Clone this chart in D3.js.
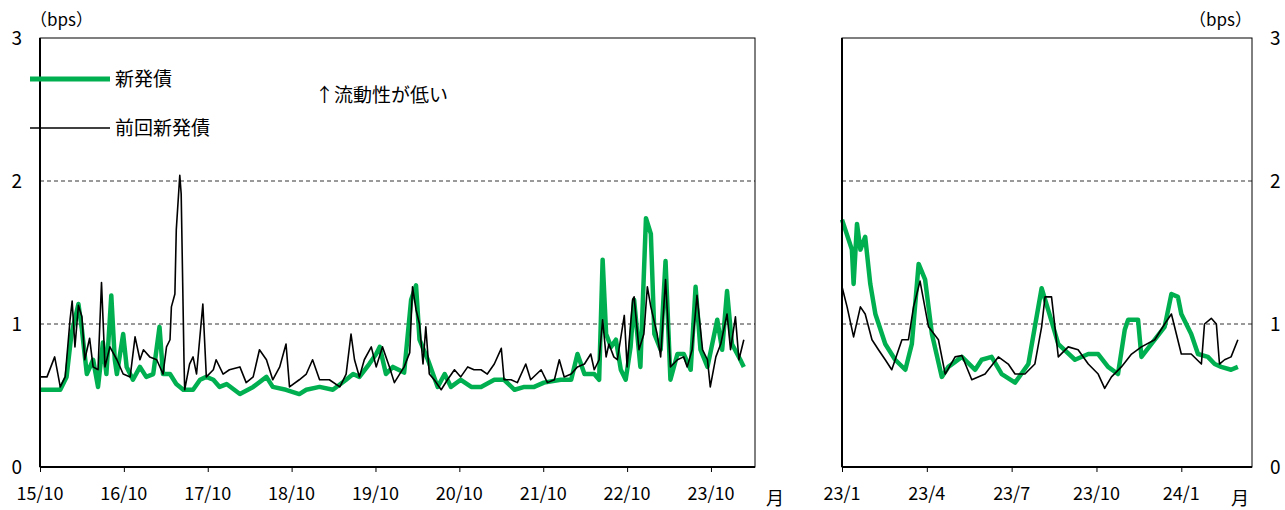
<!DOCTYPE html>
<html><head><meta charset="utf-8">
<script src="https://cdn.jsdelivr.net/npm/d3@7"></script>
<style>body{margin:0;background:#fff}text{font-family:"Noto Sans CJK JP","Noto Sans",sans-serif}</style>
</head><body><svg id="c" width="1285" height="510"></svg>
<script>
// month index from 2015/10 ; value (bps)
const leftNewM=[0,2.9,3.8,4.5,5.5,6.0,6.7,7.6,8.3,9.0,9.5,10.2,10.7,11.0,11.9,12.4,13.3,14.3,15.2,16.2,17.1,17.6,18.6,19.5,20.5,21.9,22.9,23.8,24.8,25.7,26.7,28.6,30.5,32.4,33.3,35.2,37.1,38.1,40.0,41.9,43.8,44.8,45.7,47.1,48.1,48.6,49.5,50.5,52.1,53.1,53.8,54.3,55.5,56.9,57.9,58.8,60.2,61.7,63.1,65.0,66.4,67.9,69.3,70.7,72.1,74.5,76.0,76.9,77.9,79.3,80.0,80.5,81.0,81.7,82.4,83.1,83.8,84.5,85.0,85.9,86.7,87.4,87.9,88.8,89.5,90.2,91.2,92.1,93.1,93.8,94.5,95.5,96.9,97.6,98.3,99.0,100.2,100.7];
const leftNewV=[0.54,0.54,0.63,0.93,1.14,0.96,0.65,0.75,0.56,0.87,0.65,1.20,0.75,0.65,0.93,0.70,0.61,0.70,0.63,0.65,0.98,0.65,0.65,0.58,0.54,0.54,0.61,0.63,0.61,0.56,0.58,0.51,0.56,0.63,0.56,0.54,0.51,0.54,0.56,0.54,0.61,0.65,0.63,0.72,0.79,0.84,0.65,0.70,0.66,1.17,1.27,0.89,0.75,0.56,0.65,0.56,0.61,0.56,0.56,0.61,0.61,0.54,0.56,0.56,0.59,0.61,0.61,0.79,0.65,0.65,0.61,1.45,0.93,0.84,0.89,0.68,0.61,0.84,1.17,0.70,1.74,1.63,0.93,0.82,1.44,0.61,0.79,0.79,0.68,1.26,0.82,0.70,1.03,0.82,1.23,0.86,0.75,0.70];
const leftPrevM=[0,1.0,2.1,2.9,3.6,4.3,4.6,5.0,5.5,6.0,6.4,7.1,7.6,8.3,8.8,9.3,10.0,11.0,11.9,12.9,13.6,14.3,14.8,15.7,16.7,17.6,18.1,18.6,18.8,19.3,19.5,20.0,20.2,20.6,20.7,21.4,21.9,22.4,23.3,23.8,24.8,25.2,26.2,27.1,28.6,29.5,30.5,31.4,32.4,33.3,34.3,35.2,35.7,37.1,38.1,39.0,40.0,41.4,42.9,43.8,44.5,45.0,45.7,46.4,47.4,48.1,49.0,50.0,50.7,52.1,52.9,53.3,53.8,54.3,54.8,55.2,55.7,56.4,57.4,58.3,59.3,60.2,61.2,62.1,63.1,64.0,65.0,66.0,66.4,67.4,68.3,69.5,70.2,71.7,72.6,73.6,74.3,75.0,76.0,76.9,77.9,78.8,79.3,80.0,80.5,81.0,81.4,82.1,82.6,83.6,84.0,84.8,85.0,85.7,86.4,86.9,87.4,88.3,88.8,89.5,90.2,91.2,92.1,92.6,93.3,94.0,94.8,95.5,95.9,96.7,97.4,98.3,98.8,99.5,100.0,100.7];
const leftPrevV=[0.63,0.63,0.77,0.56,0.63,1.03,1.16,0.84,1.13,1.05,0.75,0.90,0.70,0.68,1.29,0.70,0.84,0.75,0.65,0.63,0.91,0.75,0.82,0.77,0.75,0.65,0.84,0.89,1.12,1.21,1.66,2.04,1.91,0.75,0.54,0.72,0.77,0.65,1.14,0.63,0.68,0.75,0.65,0.68,0.70,0.59,0.63,0.82,0.75,0.61,0.70,0.86,0.56,0.61,0.65,0.75,0.61,0.61,0.56,0.65,0.93,0.75,0.63,0.75,0.84,0.70,0.84,0.70,0.59,0.70,0.80,1.26,1.10,1.00,0.72,0.98,0.65,0.61,0.54,0.61,0.68,0.63,0.70,0.68,0.68,0.65,0.72,0.83,0.61,0.61,0.59,0.72,0.61,0.68,0.59,0.61,0.75,0.63,0.65,0.70,0.72,0.79,0.68,0.75,1.03,0.77,0.86,0.77,0.75,1.06,0.70,1.17,1.19,0.82,0.93,1.26,1.12,0.93,0.77,1.31,0.70,0.75,0.77,0.70,0.82,1.20,0.82,0.75,0.56,0.77,0.86,1.07,0.82,1.05,0.75,0.89];
// month index from 2023/1
const rightNewM=[0,0.35,0.41,0.53,0.65,0.82,1.0,1.18,1.53,1.88,2.24,2.47,2.71,2.94,3.18,3.53,3.76,4.24,4.71,4.94,5.29,5.65,6.12,6.59,6.82,7.06,7.29,7.65,8.24,8.71,9.06,9.41,9.76,10.0,10.12,10.47,10.59,11.06,11.41,11.65,11.88,12.0,12.35,12.59,12.94,13.18,13.41,13.76,14.0];
const rightNewV=[1.73,1.52,1.28,1.70,1.52,1.61,1.28,1.07,0.86,0.75,0.68,0.86,1.42,1.31,0.93,0.63,0.70,0.77,0.68,0.75,0.77,0.65,0.59,0.72,0.98,1.25,1.10,0.86,0.75,0.79,0.79,0.70,0.65,0.96,1.03,1.03,0.77,0.89,0.98,1.21,1.19,1.07,0.93,0.79,0.77,0.72,0.70,0.68,0.70];
const rightPrevM=[0,0.18,0.41,0.65,0.82,1.06,1.29,1.53,1.76,2.12,2.35,2.53,2.76,3.06,3.41,3.65,4.0,4.24,4.59,5.06,5.53,5.88,6.12,6.47,6.82,7.06,7.18,7.41,7.65,8.0,8.35,8.71,9.06,9.29,9.53,9.88,10.24,10.59,11.06,11.41,11.65,12.0,12.35,12.71,12.82,13.06,13.24,13.35,13.53,13.76,14.0];
const rightPrevV=[1.26,1.12,0.91,1.12,1.07,0.89,0.82,0.75,0.68,0.89,0.89,1.12,1.30,0.98,0.89,0.65,0.77,0.78,0.61,0.65,0.77,0.72,0.65,0.65,0.72,0.98,1.19,1.19,0.77,0.84,0.82,0.72,0.65,0.55,0.63,0.70,0.79,0.84,0.89,1.00,1.07,0.79,0.79,0.72,1.00,1.04,1.00,0.72,0.75,0.77,0.89];
const leftTicks=["15/10","16/10","17/10","18/10","19/10","20/10","21/10","22/10","23/10"];
const rightTicks=["23/1","23/4","23/7","23/10","24/1"];
const yTicks=[0,1,2,3];

const svg=d3.select("#c");
const GREEN="#00b050";
const y=d3.scaleLinear().domain([0,3]).range([467,38]);
function panel(x0,x1,mMax,newM,newV,prevM,prevV,ticks,step){
  const x=d3.scaleLinear().domain([0,mMax]).range([x0,x1]);
  const g=svg.append("g");
  [1,2].forEach(v=>g.append("line").attr("x1",x0).attr("x2",x1).attr("y1",y(v)).attr("y2",y(v))
    .attr("stroke","#000").attr("stroke-width",0.8).attr("stroke-dasharray","4,3"));
  const line=d3.line().x(d=>x(d[0])).y(d=>y(d[1]));
  g.append("path").datum(newM.map((m,i)=>[m,newV[i]])).attr("d",line).attr("fill","none")
    .attr("stroke",GREEN).attr("stroke-width",4.5).attr("stroke-linejoin","round");
  g.append("path").datum(prevM.map((m,i)=>[m,prevV[i]])).attr("d",line).attr("fill","none")
    .attr("stroke","#000").attr("stroke-width",1.6).attr("stroke-linejoin","round");
  g.append("rect").attr("x",x0).attr("y",38).attr("width",x1-x0).attr("height",429)
    .attr("fill","none").attr("stroke","#000").attr("stroke-width",1);
  g.append("line").attr("x1",x0).attr("x2",x0).attr("y1",38).attr("y2",467).attr("stroke","#000").attr("stroke-width",2);
  g.append("line").attr("x1",x0).attr("x2",x1).attr("y1",467).attr("y2",467).attr("stroke","#000").attr("stroke-width",2);
  const ax=d3.axisBottom(x).tickValues(d3.range(0,mMax,step)).tickSize(5).tickFormat("");
  g.append("g").attr("transform","translate(0,467)").call(ax).call(s=>s.select(".domain").remove());
  ticks.forEach((t,i)=>g.append("text").attr("x",x(i*step)).attr("y",500).attr("text-anchor","middle")
    .attr("font-size",18).text(t));
  return x;
}
panel(40,755,102.3,leftNewM,leftNewV,leftPrevM,leftPrevV,leftTicks,12);
panel(842,1252,14.5,rightNewM,rightNewV,rightPrevM,rightPrevV,rightTicks,3);
yTicks.forEach(v=>{
  svg.append("text").attr("x",22).attr("y",y(v)+7).attr("text-anchor","end").attr("font-size",19).text(v);
  svg.append("text").attr("x",1270).attr("y",y(v)+7).attr("text-anchor","start").attr("font-size",19).text(v);
});
svg.append("text").attr("x",30).attr("y",26).attr("font-size",17).text("（bps）");
svg.append("text").attr("x",1252).attr("y",26).attr("text-anchor","end").attr("font-size",17).text("（bps）");
svg.append("text").attr("x",775).attr("y",505).attr("text-anchor","middle").attr("font-size",18).text("月");
svg.append("text").attr("x",1240).attr("y",505).attr("text-anchor","middle").attr("font-size",18).text("月");
svg.append("line").attr("x1",30).attr("x2",110).attr("y1",79).attr("y2",79).attr("stroke",GREEN).attr("stroke-width",5);
svg.append("text").attr("x",115).attr("y",86).attr("font-size",19).text("新発債");
svg.append("line").attr("x1",30).attr("x2",110).attr("y1",128).attr("y2",128).attr("stroke","#000").attr("stroke-width",1.4);
svg.append("text").attr("x",115).attr("y",135).attr("font-size",19).text("前回新発債");
svg.append("text").attr("x",315).attr("y",102).attr("font-size",19).text("↑流動性が低い");
</script></body></html>
